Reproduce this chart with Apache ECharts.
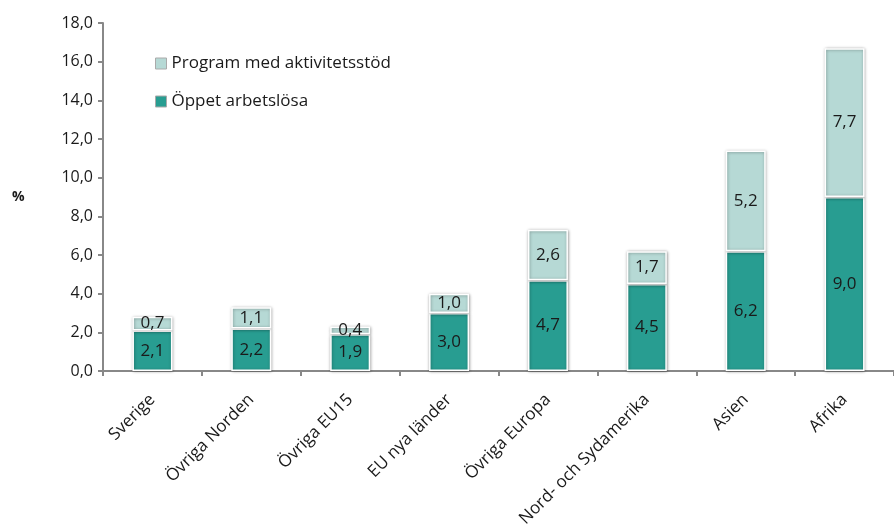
<!DOCTYPE html>
<html>
<head>
<meta charset="utf-8">
<script src="https://cdn.jsdelivr.net/npm/echarts@6/dist/echarts.min.js"></script>
<style>
  html, body { margin: 0; padding: 0; background: #fff; }
  #chart { width: 894px; height: 531px; }
</style>
</head>
<body>
<div id="chart"></div>
<script>
const categories = ['Sverige', 'Övriga Norden', 'Övriga EU15', 'EU nya länder', 'Övriga Europa', 'Nord- och Sydamerika', 'Asien', 'Afrika']
const oppet = [2.1, 2.2, 1.9, 3.0, 4.7, 4.5, 6.2, 9.0]
const program = [0.7, 1.1, 0.4, 1.0, 2.6, 1.7, 5.2, 7.7]

const fontFamily = "'Open Sans', 'Liberation Sans', sans-serif"
const fmt = (v) => v.toFixed(1).replace('.', ',')

const barStyle = (color) => ({
  color: color,
  borderColor: '#fff',
  borderWidth: 1.5,
  shadowColor: 'rgba(0,0,0,0.35)',
  shadowBlur: 3,
  shadowOffsetX: 0.5,
  shadowOffsetY: 0.5
})

const labelStyle = {
  show: true,
  position: 'inside',
  color: '#1a1a1a',
  fontSize: 17,
  fontFamily: fontFamily,
  formatter: (p) => fmt(p.value)
}

const chart = echarts.init(document.getElementById('chart'))
chart.setOption({
  backgroundColor: '#fff',
  animation: false,
  grid: { left: 103, right: 0, top: 23, bottom: 160 },
  legend: {
    data: ['Program med aktivitetsstöd', 'Öppet arbetslösa'],
    orient: 'vertical',
    left: 150,
    top: 50,
    itemGap: 21,
    itemWidth: 11,
    itemHeight: 11,
    icon: 'rect',
    textStyle: { fontSize: 17, color: '#1a1a1a', fontFamily: fontFamily },
    itemStyle: { borderColor: '#aaa', borderWidth: 1, shadowBlur: 0 }
  },
  graphic: [{
    type: 'text',
    left: 12,
    top: 190,
    style: { text: '%', fontSize: 14, fontWeight: 'bold', fill: '#1a1a1a', fontFamily: fontFamily }
  }],
  xAxis: {
    type: 'category',
    data: categories,
    axisLine: { lineStyle: { color: '#888', width: 2 } },
    axisTick: { show: true, length: 5, lineStyle: { color: '#888', width: 2 } },
    axisLabel: {
      rotate: 45,
      interval: 0,
      margin: 26,
      fontSize: 17,
      color: '#1a1a1a',
      fontFamily: fontFamily
    }
  },
  yAxis: {
    type: 'value',
    min: 0,
    max: 18,
    interval: 2,
    axisLine: { show: true, lineStyle: { color: '#888', width: 2 } },
    axisTick: { show: true, length: 5, lineStyle: { color: '#888', width: 2 } },
    splitLine: { show: false },
    axisLabel: {
      fontSize: 16,
      color: '#1a1a1a',
      margin: 10,
      fontFamily: fontFamily,
      formatter: (v) => fmt(v)
    }
  },
  series: [
    {
      name: 'Öppet arbetslösa',
      type: 'bar',
      stack: 'total',
      barWidth: 40,
      data: oppet,
      itemStyle: barStyle('#289d91'),
      label: labelStyle
    },
    {
      name: 'Program med aktivitetsstöd',
      type: 'bar',
      stack: 'total',
      barWidth: 40,
      data: program,
      itemStyle: barStyle('#b6d9d5'),
      label: labelStyle
    }
  ]
})
</script>
</body>
</html>
